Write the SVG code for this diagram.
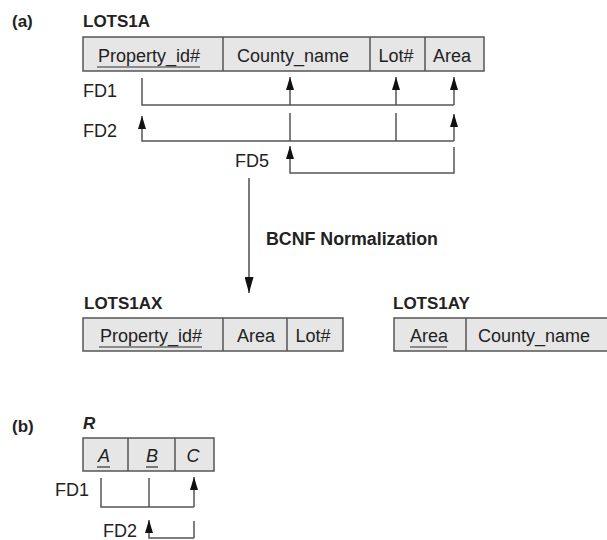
<svg xmlns="http://www.w3.org/2000/svg" width="607" height="540" viewBox="0 0 607 540">
<style>
  text { font-family: "Liberation Sans", Arial, sans-serif; fill: #222; }
  .t { font-size: 18px; text-anchor: middle; }
  .fd { font-size: 18px; }
  .lbl { font-size: 17px; font-weight: bold; }
  .cell { fill: #e6e6e6; stroke: #555; stroke-width: 1.5; }
  .div { stroke: #555; stroke-width: 1.5; }
  .ul { stroke: #333; stroke-width: 1.2; }
  .c { fill: none; stroke: #555; stroke-width: 1.5; }
  .ca { fill: none; stroke: #555; stroke-width: 1.5; marker-end: url(#ah); }
  .big { fill: none; stroke: #222; stroke-width: 1.2; marker-end: url(#bah); }
</style>
<defs>
  <marker id="ah" markerUnits="userSpaceOnUse" markerWidth="13" markerHeight="8" refX="13" refY="4" orient="auto">
    <path d="M0,0 L13,4 L0,8 Z" fill="#111"/>
  </marker>
  <marker id="bah" markerUnits="userSpaceOnUse" markerWidth="16" markerHeight="9" refX="16" refY="4.5" orient="auto">
    <path d="M0,0 L16,4.5 L0,9 Z" fill="#111"/>
  </marker>
</defs>
<rect width="607" height="540" fill="#fff"/>

<g id="label-a"><text class="lbl" x="12" y="27">(a)</text></g>

<g id="LOTS1A">
  <text class="lbl" x="83" y="27">LOTS1A</text>
  <rect class="cell" x="83" y="37" width="401" height="34"/>
  <line class="div" x1="223" y1="37" x2="223" y2="71"/>
  <line class="div" x1="370" y1="37" x2="370" y2="71"/>
  <line class="div" x1="425" y1="37" x2="425" y2="71"/>
  <text class="t" x="149" y="62">Property_id#</text>
  <line class="ul" x1="97" y1="67" x2="200" y2="67"/>
  <text class="t" x="293" y="62">County_name</text>
  <text class="t" x="396" y="62">Lot#</text>
  <text class="t" x="452" y="62">Area</text>
</g>

<g id="fd-labels-a">
  <text class="fd" x="83" y="97">FD1</text>
  <text class="fd" x="83" y="137">FD2</text>
  <text class="fd" x="235" y="167">FD5</text>
</g>

<g id="connectors">
  <!-- FD1 -->
  <path class="c" d="M142,78 V105 H454"/>
  <path class="ca" d="M454,105 V77"/>
  <path class="ca" d="M290,105 V77"/>
  <path class="ca" d="M396,105 V77"/>
  <!-- FD2 -->
  <path class="c" d="M290,113 V141"/>
  <path class="c" d="M396,113 V141"/>
  <path class="ca" d="M454,141 H142 V116"/>
  <path class="ca" d="M454,141 V114"/>
  <!-- FD5 -->
  <path class="ca" d="M454,147 V173 H290 V146"/>
  <!-- BCNF normalization -->
  <path class="big" d="M249,178 V293"/>
  <!-- (b) FD1 -->
  <path class="c" d="M101,478 V507 H194"/>
  <path class="c" d="M149,478 V507"/>
  <path class="ca" d="M194,507 V477"/>
  <!-- (b) FD2 -->
  <path class="c" d="M194,521 V538"/>
  <path class="ca" d="M194,538 H149 V520"/>
</g>

<g id="bcnf-label"><text x="266" y="245" style="font-size:18px;font-weight:bold" textLength="172" lengthAdjust="spacingAndGlyphs">BCNF Normalization</text></g>

<g id="LOTS1AX">
  <text class="lbl" x="84" y="309">LOTS1AX</text>
  <rect class="cell" x="83" y="318" width="260" height="33"/>
  <line class="div" x1="223" y1="318" x2="223" y2="351"/>
  <line class="div" x1="287" y1="318" x2="287" y2="351"/>
  <text class="t" x="151" y="342">Property_id#</text>
  <line class="ul" x1="99" y1="347" x2="202" y2="347"/>
  <text class="t" x="256" y="342">Area</text>
  <text class="t" x="313" y="342">Lot#</text>
</g>

<g id="LOTS1AY">
  <text class="lbl" x="393" y="309">LOTS1AY</text>
  <rect class="cell" x="394" y="318" width="220" height="33"/>
  <line class="div" x1="466" y1="318" x2="466" y2="351"/>
  <text class="t" x="429" y="342">Area</text>
  <line class="ul" x1="410" y1="347" x2="447" y2="347"/>
  <text class="t" x="534" y="342">County_name</text>
</g>

<g id="label-b"><text class="lbl" x="12" y="432">(b)</text></g>

<g id="R">
  <text class="lbl" x="83" y="429" style="font-style:italic">R</text>
  <rect class="cell" x="83" y="438" width="131" height="33"/>
  <line class="div" x1="128" y1="438" x2="128" y2="471"/>
  <line class="div" x1="175" y1="438" x2="175" y2="471"/>
  <text class="t" x="104" y="462" style="font-style:italic">A</text>
  <line class="ul" x1="97" y1="467" x2="110" y2="467"/>
  <text class="t" x="152" y="462" style="font-style:italic">B</text>
  <line class="ul" x1="146" y1="467" x2="158" y2="467"/>
  <text class="t" x="193" y="462" style="font-style:italic">C</text>
</g>

<g id="fd-labels-b">
  <text class="fd" x="55" y="496">FD1</text>
  <text class="fd" x="103" y="537">FD2</text>
</g>
</svg>
